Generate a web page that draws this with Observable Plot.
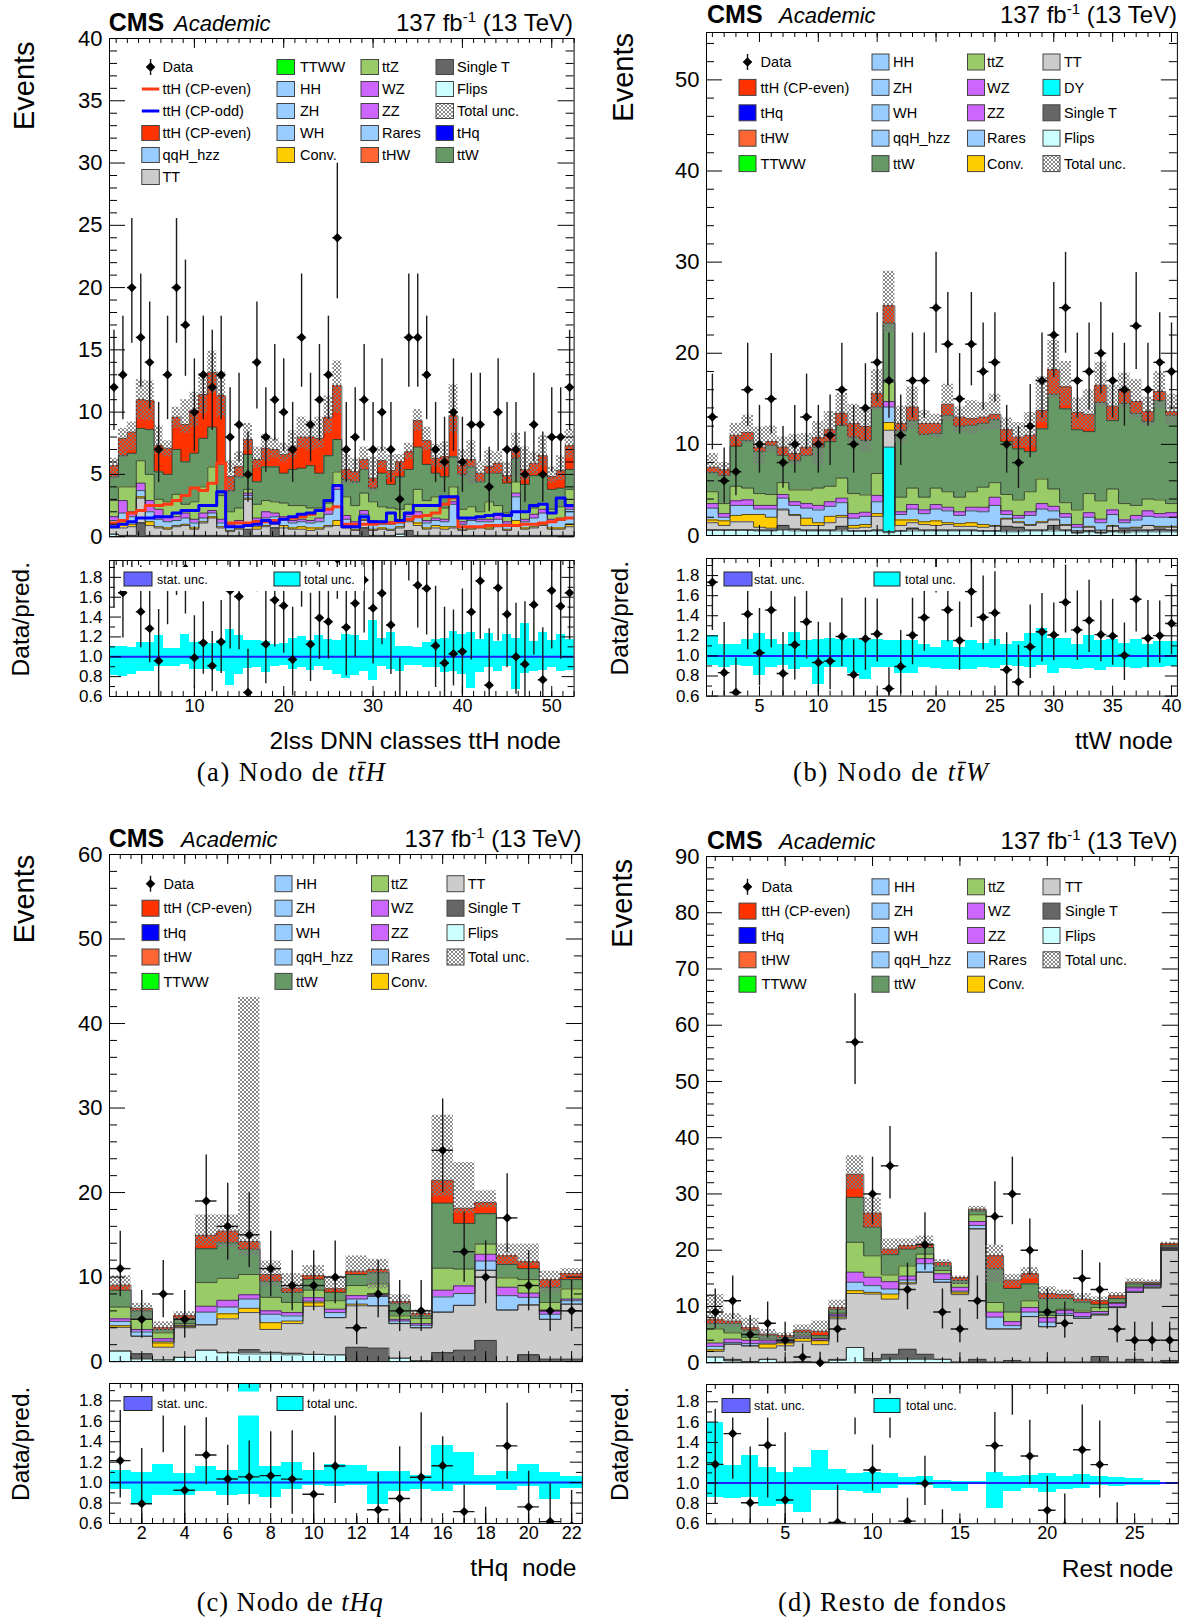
<!DOCTYPE html>
<html><head><meta charset="utf-8">
<script src="https://cdn.jsdelivr.net/npm/d3@7"></script>
<script src="https://cdn.jsdelivr.net/npm/@observablehq/plot@0.6"></script>
<style>
body{margin:0;background:#fff;}
#page{position:relative;width:1189px;height:1623px;overflow:hidden;background:#fff;}
</style></head><body><div id="page"></div>
<script>
// ---------------- DATA ----------------
// Panel (a) ttH node, 52 bins
const A_data  = [12,13,20,16,14,7,13,20,17,10,13,12,13,8,9,5,14,8,11,10,7,16,9,11,13,24,7,8,11,7,10,7,3,16,16,13,7,6,10,6,9,9,4,10,7,7,5,9,5,8,8,12];
const A_flips = [0.2,0.1,0.1,0.1,0.1,0.1,0.1,0.1,0.1,0.1,0.1,0.1,0.1,0.1,0.1,0.1,0.1,0.1,0.1,0.1,0.1,0.1,0.1,0.1,0.1,0.1,0.1,0.1,0.1,0.1,0.1,0.1,0.2,0.1,0.1,0.1,0.1,0.1,0.1,0.1,0.1,0.1,0.1,0.1,0.1,0.1,0.1,0.1,0.1,0.1,0.1,0.1];
const A_st    = [0,0,0,1.0,0,0,0,0,0,0,0,0,0,0,0,0.5,0,0,0.6,0,0,0,0,0,0,0,0,0,0.6,0,0,0,0,0.4,0,0,0,0,0,0,0,0,0,0,0,0,0,0,0,0,0,0];
const A_tt    = [0.5,0.6,0.7,2.0,0.8,0.6,0.5,0.7,0.8,0.5,1.0,1.4,0.6,0.3,0.5,2.4,0.5,0.7,0.3,0.6,0.5,0.5,0.4,0.5,0.7,0.8,0.6,0.4,0.6,0.4,0.5,0.4,0.5,0.7,0.8,0.5,0.6,0.5,0.6,0.4,0.5,0.6,0.5,0.7,0.4,0.8,0.5,0.6,0.8,0.5,0.5,0.7];
const A_conv  = [0.1,0.5,0.2,0.1,0.3,0.1,0.1,0.1,0.1,0.1,0.1,0.1,0.1,0.1,0.1,0.1,0.2,0.1,0.1,0.2,0.1,0.2,0.2,0.1,0.1,0.4,0.1,0.1,0.1,0.1,0.1,0.1,0.1,0.1,0.2,0.1,0.2,0.2,0.1,0.1,0.1,0.1,0.1,0.1,0.1,0.4,0.1,0.1,0.1,0.1,0.1,0.2];
const A_rares = [0.5,0.7,0.6,0.5,0.8,0.6,0.5,0.4,0.5,0.4,0.3,0.3,0.3,0.3,0.4,0.2,0.5,0.6,0.5,0.5,0.4,0.4,0.4,0.5,0.9,2.5,0.6,0.4,0.4,0.5,0.3,0.4,0.3,0.3,0.6,0.4,0.4,0.4,1.8,0.4,0.6,0.4,0.5,0.5,0.4,1.9,0.5,0.7,0.9,0.5,0.6,1.2];
const A_vv    = [0.3,1.0,0.4,0.6,0.9,0.8,0.4,0.3,0.4,0.3,0.4,0.2,0.3,0.2,0.2,0.2,0.2,0.5,0.3,0.2,0.2,0.2,0.2,0.3,0.4,0.3,0.3,0.2,0.3,0.2,0.2,0.2,0.1,0.2,0.3,0.2,0.2,0.2,0.2,0.2,0.2,0.2,0.2,0.3,0.2,0.3,0.2,0.3,0.3,0.2,0.2,0.2];
const A_ttz   = [1.3,1.1,2.0,1.8,2.1,0.8,1.2,1.8,0.7,1.4,2.1,3.5,1.9,1.0,1.0,0.3,1.1,0.9,0.9,1.1,1.2,1.1,1.0,0.8,0.5,1.1,1.5,1.3,1.4,1.5,1.2,1.1,1.0,0.8,1.8,1.6,1.7,0.9,1.2,1.0,0.9,0.6,1.4,0.8,0.7,0.9,0.6,0.5,0.4,0.8,0.9,1.4];
const A_ttw   = [1.9,2.5,2.7,2.6,3.6,2.2,2.2,3.6,3.4,3.9,3.9,3.2,2.5,1.7,2.5,2.8,1.8,2.7,2.8,2.4,2.9,3.0,3.4,2.8,3.8,2.6,1.4,1.9,1.9,1.1,2.7,1.9,2.6,2.8,3.4,2.9,1.9,2.5,2.4,2.8,3.2,2.4,2.3,2.6,2.4,1.9,2.2,2.6,2.4,1.6,1.5,1.6];
const A_tth   = [0.9,1.4,1.7,2.3,2.3,2.1,2.1,2.6,3.0,3.4,3.5,4.4,5.5,1.1,0.8,1.2,1.8,1.5,1.4,1.5,1.8,2.5,2.3,2.8,3.1,4.3,0.8,0.8,0.8,0.8,1.0,1.1,1.2,1.4,2.1,1.9,1.2,1.6,3.3,0.7,0.6,0.7,0.5,0.8,0.6,0.7,1.2,1.0,1.5,1.0,1.4,1.9];
const A_up    = [0.6,0.8,0.8,1.6,1.6,1.6,0.6,0.8,2.0,1.5,1.7,1.7,1.9,1.3,1.2,1.3,1.0,1.1,0.9,0.9,1.3,1.6,1.3,1.7,1.7,2.0,1.2,1.1,1.0,1.7,1.1,1.3,0.6,0.7,0.9,1.1,1.1,1.2,2.5,1.3,1.5,0.9,1.3,0.9,1.1,1.3,1.8,0.9,1.6,0.8,1.2,1.3];
const A_dn    = [1.1,1.6,1.5,1.6,1.6,0.7,0.7,0.9,0.7,1.3,1.5,1.7,1.7,1.4,1.0,0.9,0.7,1.1,0.7,0.6,0.9,0.9,1.1,0.8,1.3,2.2,1.2,1.0,0.9,1.1,0.6,0.7,0.9,0.6,0.8,0.8,0.7,1.0,1.4,1.0,2.0,0.8,0.6,0.9,0.5,2.3,0.9,0.9,0.9,0.5,0.8,1.0];
const A_even  = [1.1,1.3,1.9,2.1,2.5,2.5,2.6,2.9,3.3,3.9,3.7,4.3,5.9,1.1,1.1,1.1,1.2,1.2,1.3,1.4,1.5,1.6,1.8,2.1,2.2,2.4,1.0,1.0,1.0,1.0,1.1,1.1,1.2,1.4,1.6,1.7,1.9,2.6,3.1,0.8,0.8,0.8,0.9,0.9,0.9,0.9,1.0,1.0,1.1,1.2,1.4,1.5];
const A_odd   = [0.8,1.0,1.2,1.5,1.5,1.6,1.6,1.9,2.1,2.1,2.5,2.5,3.6,0.8,0.8,0.9,1.0,1.3,1.1,1.4,1.6,1.8,1.9,2.1,2.9,4.1,0.8,0.8,1.6,1.2,1.2,1.9,1.3,1.9,2.5,2.5,2.5,3.2,3.2,1.5,1.5,1.6,1.7,1.8,1.7,2.0,2.0,2.5,2.6,1.9,3.1,2.5];

// Panel (b) ttW node, 40 bins
const B_data  = [13,6,7,16,10,15,8,10,13,10,11,16,10,14,19,17,11,17,17,25,21,15,21,18,19,10,8,12,17,22,25,17,18,20,17,16,23,16,19,18];
const B_flips = [0.6,0.6,0.6,0.6,0.5,0.5,0.6,0.5,0.5,0.5,0.5,0.5,0.5,0.5,0.5,0.3,0.5,0.5,0.5,0.5,0.5,0.5,0.5,0.5,0.5,0.4,0.4,0.5,0.5,0.5,0.5,0.3,0.4,0.3,0.4,0.3,0.4,0.4,0.4,0.4];
const B_st    = [0,0,0,0,0.1,0.1,0.5,0.2,0.1,0.1,0.1,0.5,0,0,0.1,0.1,0,0.3,0.1,0.1,0.1,0.1,0.1,0,0,0.6,0.5,0.1,0.1,0.6,0.1,0,0.1,0,0.1,0.3,0.2,0.2,0.3,0.2];
const B_dy    = [0,0,0,0,0,0,0,0,0,0,0,0,0,0,0,9.3,0,0,0,0,0,0,0,0,0,0,0,0,0,0,0,0,0,0,0,0,0,0,0,0];
const B_tt    = [0.8,0.5,0.9,0.9,0.3,0.2,1.7,1.5,0.5,0.5,0.8,1.0,0.3,0.4,1.5,1.85,0.6,0.6,0.6,0.5,0.6,0.4,0.4,0.4,0.5,0.8,0.5,0.5,0.8,0.6,0.5,0.2,0.4,0.2,0.5,0.2,0.2,0.5,0.2,0.3];
const B_conv  = [0.3,0.5,0.7,0.8,1.4,1.2,0.1,0.1,0.8,0.3,0.7,0.2,0.3,0.3,0.3,0.85,0.6,0.3,0.3,0.5,0.2,0.3,0.4,0.3,0.1,0.1,0.1,0.1,0.1,0.1,0.1,0,0.1,0.1,0.1,0,0.1,0,0.1,0.1];
const B_rares = [1.3,0.4,1.1,1.0,0.6,0.9,1.2,1.0,1.1,1.4,1.1,1.4,0.8,0.9,1.3,1.7,0.6,1.2,0.9,1.3,1.3,0.9,1.3,1.4,2.2,0.4,0.4,1.0,1.4,0.9,0.8,0.4,1.0,0.8,1.2,0.6,0.8,1.0,1.0,1.0];
const B_vv    = [0.5,0.4,0.5,0.6,0.4,0.4,0.4,0.4,0.5,0.5,0.5,0.5,0.5,0.45,0.7,0.6,0.3,0.5,0.4,0.5,0.4,0.4,0.4,0.5,0.9,0.4,0.3,0.4,0.6,0.5,0.4,0.3,0.5,0.4,0.5,0.3,0.5,0.6,0.4,0.5];
const B_ttz   = [1.3,1.1,1.6,1.3,1.3,1.2,1.3,1.3,1.5,1.9,1.7,2.2,2.2,1.9,2.4,2.1,1.6,1.8,1.4,1.8,1.7,1.6,1.7,2.2,1.6,1.8,1.7,2.2,2.7,1.9,1.2,1.6,2.1,2.0,2.3,1.8,1.1,1.3,1.5,1.0];
const B_ttw   = [2.1,3.1,4.4,5.2,4.6,5.4,3.0,3.2,3.8,4.5,4.9,5.8,6.2,6.0,7.3,6.5,7.3,7.4,6.9,6.0,8.4,7.8,7.3,7.0,6.9,5.8,5.6,4.4,5.5,10.4,10.3,8.8,6.8,10.8,7.5,11.0,10.1,8.5,10.9,9.7];
const B_tth   = [0.6,0.6,1.2,0.9,0.5,0.4,0.9,0.8,0.9,1.0,1.3,1.3,1.5,1.5,1.5,1.9,0.8,1.5,1.2,1.1,1.2,1.0,0.7,0.7,0.6,1.3,1.3,1.8,2.0,2.7,2.4,1.9,1.9,1.9,1.6,1.4,1.3,1.1,1.0,0.4];
const B_up    = [1.5,0.8,1.3,1.9,2.2,1.7,1.1,2.1,1.5,1.8,2.0,2.2,2.1,1.8,2.6,3.8,1.9,2.2,1.4,1.0,2.2,1.1,2.0,1.6,2.2,1.3,1.6,2.5,3.7,3.2,2.8,1.6,2.7,2.5,2.3,1.9,2.4,1.6,2.2,1.9];
const B_dn    = [0.7,0.8,1.1,1.2,1.9,1.2,0.95,1.2,1.1,3.0,1.3,1.5,2.2,2.8,1.8,2.9,2.2,2.5,1.4,1.6,1.9,1.7,1.7,1.5,1.7,1.1,1.1,1.3,1.3,3.2,2.1,1.8,1.7,2.4,1.6,1.9,1.9,1.6,1.9,1.5];

// Panel (c) tHq node, 22 bins
const C_data  = [11,5,8,5,19,16,15,11,9,9,10,4,8,6,6,25,13,10,17,9,6,6];
const C_flips = [1.25,0.3,0.2,0.5,1.35,1.05,0.9,0.9,0.8,0.85,0.8,0,0,0.4,0.1,0,0,0,0,0,0,0];
const C_st    = [0,0.6,0,0,0,0,0.5,0.2,0.2,0,0,1.7,1.6,0,0,1.05,1.35,2.5,0,0.8,0.3,0.3];
const C_tt    = [2.8,2.1,1.5,3.5,3.0,4.0,4.4,2.7,3.5,5.7,4.4,4.9,5.0,4.1,3.9,4.8,5.3,8.3,6.1,5.9,4.7,6.5];
const C_conv  = [0.2,0,0.5,0.1,0,0.6,0.5,0.8,0.3,0.4,0,0.2,0,0,0,0,0,0,0,0,0,0];
const C_rares = [0.5,0.5,0.2,0.1,1.5,0.8,1.1,1.0,0.6,0.2,0.6,0.6,1.1,0.3,0.3,1.8,1.4,1.1,1.7,0.9,0.6,0.4];
const C_vv    = [0.3,0.3,0.3,0.1,0.7,0.8,0.5,0.4,0.4,0.4,0.4,0.4,0.1,0.2,0.2,0.8,0.9,0.8,1.0,0.5,0.5,0.2];
const C_ttz   = [1.4,1.2,0.7,0.2,2.8,2.6,2.4,1.6,1.2,0.9,1.0,1.2,1.4,0.4,0.6,2.6,2.0,1.2,1.1,1.6,0.9,1.2];
const C_ttw   = [2.0,1.0,0.4,0.6,4.0,4.2,3.0,1.9,1.2,1.3,1.0,1.3,1.3,1.5,0.3,7.7,5.4,3.6,1.6,1.3,1.8,1.1];
const C_tth   = [0.6,0.3,0.2,0.3,1.6,1.4,0.9,0.8,0.5,0.4,0.4,0.4,0.4,0.2,0.3,2.7,1.8,1.3,1.0,0.8,0.9,0.7];
const C_up    = [1.1,0.6,0.7,0.5,2.4,1.9,28.9,1.6,1.7,1.2,1.5,1.8,1.2,0.8,0.4,7.7,5.4,1.4,1.4,2.1,1.0,0.6];
const C_dn    = [0.6,1.3,0.5,0.7,1.3,2.0,1.7,1.5,0.6,0.3,0.3,0.3,2.3,0.6,0.4,1.9,0.6,0.6,1.0,0.5,1.6,0.6];

// Panel (d) rest node, 27 bins
const D_data  = [9,11,5,7,4,1,0,6,57,30,35,13,21,9,6,11,26,30,20,9,7,15,13,6,4,4,4];
const D_flips = [1.0,0.3,0.2,0.6,0.1,0.1,0.1,0.4,2.7,0.3,0.6,0.6,0.6,0.6,0.1,0.1,0.1,0.1,0.1,0.1,0.1,0.1,0.1,0.1,0.1,0.1,0.1];
const D_st    = [0,0.3,0,0,0,0.1,0,0.2,0,0.4,0.9,1.8,0.9,0,0,0.5,0,0.3,0,0,0,0,1.0,0,0.5,0,0.3];
const D_tt    = [1.0,2.7,2.8,2.0,2.9,3.6,3.1,7.2,9.6,11.5,9.8,11.6,14.6,13.7,12.0,23.2,5.9,5.6,8.1,6.3,8.3,7.8,7.4,9.7,11.9,13.2,19.8];
const D_conv  = [0.3,0,0,0.7,0.5,0.5,0.7,0.3,0.5,0.3,0.9,0.2,0,0,0.3,0,0,0,0,0,0,0,0,0,0,0,0];
const D_rares = [0.6,0.3,0.4,0.2,0.1,0.1,0.1,0.2,1.5,1.2,0.9,0.5,1.5,0.5,0.3,0.6,2.1,0.6,0.8,0.8,0.3,0.3,0.2,0.2,0.2,0.2,0.1];
const D_vv    = [0.6,0.6,0.6,0.4,0.2,0.2,0.3,0.2,1.8,1.5,1.3,0.7,0.9,1.0,0.7,0.7,0.9,0.7,0.8,0.8,0.6,0.7,0.4,0.5,0.6,0.3,0.2];
const D_ttz   = [2.5,1.1,0.5,0.3,0.2,0.3,0.1,0.3,5.3,3.8,1.2,1.8,0.8,0.6,0.7,1.2,1.7,1.7,1.2,0.4,0.2,0.3,0.7,0.2,0.2,0.1,0.1];
const D_ttw   = [1.0,1.7,1.3,0.6,0.5,0.5,0.4,0.7,8.0,5.1,3.6,3.0,1.2,0.8,0.5,0.7,6.0,4.2,3.0,3.0,1.9,1.6,0.6,0.7,0.5,0.2,0.3];
const D_tth   = [0.6,0.4,0.4,0.3,0.3,0.4,0.8,0.3,4.1,2.5,1.0,0.6,0.6,0.6,0.5,0.3,2.3,1.5,1.8,0.9,0.7,0.5,0.6,0.5,0.3,0.2,0.3];
const D_up    = [4.5,1.3,1.7,0.8,0.5,0.9,1.8,1.3,3.3,2.7,1.8,1.2,1.4,0.5,0.3,0.5,1.9,1.0,1.1,1.2,0.8,1.0,0.7,0.6,0.6,0.4,0.2];
const D_dn    = [1.1,1.1,0.9,1.2,1.0,1.7,0.4,0.7,2.7,2.7,1.0,0.6,0.6,0.9,1.2,0.5,4.8,1.2,0.9,1.1,0.8,0.6,0.3,0.4,0.4,0.3,0.2];

// Axis tick labels
const A_xlabels = [10,20,30,40,50];
const B_xlabels = [5,10,15,20,25,30,35,40];
const C_xlabels = [2,4,6,8,10,12,14,16,18,20,22];
const D_xlabels = [5,10,15,20,25];
const RATIO_LABELS = [0.6,0.8,1.0,1.2,1.4,1.6,1.8];

// ---------------- STYLE ----------------
const FONT = '"Liberation Sans", Arial, Helvetica, sans-serif';
const SERIF = '"Liberation Serif", "Times New Roman", serif';
const COLORS = {flips:"#ccffff", st:"#666666", dy:"#00ffff", tt:"#cccccc", conv:"#ffcc00",
  rares:"#99ccff", vv:"#cc66ff", ttz:"#99cc66", ttw:"#669966", tth:"#ff3300",
  ttww:"#00ff00", thw:"#ff6633", thq:"#0000ff"};

const page = document.getElementById("page");

function garwood(n){ return [Math.max(0, n - Math.sqrt(n)), n + Math.sqrt(n + 0.75) + 1]; }
function steps(a, b, s){ const o=[]; for(let k=0; a + k*s <= b + 1e-9; k++) o.push(+(a + k*s).toFixed(4)); return o; }

function tickMarks(W, H, xMaj, xMin, yMaj, yMin, L){
  const m = [];
  const tk = {stroke:"black", strokeWidth:1};
  m.push(Plot.tickY(yMaj, {y:d=>d, insetRight: W - L.yM, ...tk}));
  m.push(Plot.tickY(yMaj, {y:d=>d, insetLeft: W - L.yM, ...tk}));
  m.push(Plot.tickY(yMin, {y:d=>d, insetRight: W - L.ym, ...tk}));
  m.push(Plot.tickY(yMin, {y:d=>d, insetLeft: W - L.ym, ...tk}));
  m.push(Plot.tickX(xMaj, {x:d=>d, insetTop: H - L.xM, ...tk}));
  m.push(Plot.tickX(xMaj, {x:d=>d, insetBottom: H - L.xM, ...tk}));
  m.push(Plot.tickX(xMin, {x:d=>d, insetTop: H - L.xm, ...tk}));
  m.push(Plot.tickX(xMin, {x:d=>d, insetBottom: H - L.xm, ...tk}));
  return m;
}

function place(svg, left, top){
  svg.style.position = "absolute";
  svg.style.left = left + "px";
  svg.style.top = top + "px";
  svg.style.background = "transparent";
  svg.style.maxWidth = "none";
  page.appendChild(svg);
}

function drawPanel(P){
  const n = P.data.length;
  const idx = d3.range(n);
  const cum = new Array(n).fill(0);
  const stackMarks = [], outlineMarks = [];
  for (const [key, arr] of P.comps){
    const recs = idx.map(i => ({x1:i+0.5, x2:i+1.5, y1:cum[i], y2:cum[i]+arr[i]})).filter(r => r.y2 > r.y1);
    idx.forEach(i => { cum[i] += arr[i]; });
    stackMarks.push(Plot.rect(recs, {x1:"x1", x2:"x2", y1:"y1", y2:"y2", fill:COLORS[key], inset:0, shapeRendering:"crispEdges", clip:true}));
    const pts = idx.flatMap(i => [{x:i+0.5, y:cum[i]}, {x:i+1.5, y:cum[i]}]);
    outlineMarks.push(Plot.line(pts, {x:"x", y:"y", stroke:"#2b2b2b", strokeWidth:0.8, clip:true}));
  }
  const total = cum.slice();
  const unc = idx.map(i => ({x1:i+0.5, x2:i+1.5, y1:total[i]-P.dn[i], y2:total[i]+P.up[i],
     r1: 1 - P.dn[i]/total[i], r2: 1 + P.up[i]/total[i]}));
  const pts = idx.map(i => { const v = P.data[i]; const [lo,hi] = garwood(v);
     return {x:i+1, y:v, lo, hi, r:v/total[i], rlo:lo/total[i], rhi:hi/total[i]}; });
  const hatchId = "hatch" + P.id;

  const lineMarks = (P.lines || []).map(([arr, col]) =>
    Plot.line(idx.flatMap(i => [{x:i+0.5, y:arr[i]}, {x:i+1.5, y:arr[i]}]), {x:"x", y:"y", stroke:col, strokeWidth:3, clip:true}));

  // ----- main -----
  const M = P.main, mL = 70, mR = 12, mT = 12, mB = 12;
  const W = M.x1 - M.x0, H = M.y1 - M.y0;
  const xDom = [0.5, n + 0.5];
  const xMin = steps(P.xMinor, n + 0.5, P.xMinor);
  const xMaj = steps(P.xMajor, n + 0.5, P.xMajor);
  const yMaj = steps(0, M.ymax, M.yMajor);
  const yMin = steps(M.yMinor, M.ymax, M.yMinor).filter(v => Math.abs(v/M.yMajor - Math.round(v/M.yMajor)) > 1e-6);
  const main = Plot.plot({
    width: W + mL + mR, height: H + mT + mB,
    marginLeft: mL, marginRight: mR, marginTop: mT, marginBottom: mB,
    x: {domain: xDom, axis: null}, y: {domain: [0, M.ymax]},
    style: {background:"transparent", fontFamily: FONT, overflow:"visible"},
    marks: [
      ...stackMarks, ...outlineMarks,
      Plot.rect(unc, {x1:"x1", x2:"x2", y1:"y1", y2:"y2", fill:`url(#${hatchId})`, inset:0, clip:true}),
      ...lineMarks,
      Plot.ruleX(pts, {x:"x", y1:"lo", y2:"hi", stroke:"#1a1a1a", strokeWidth:1.4, clip:true}),
      Plot.ruleY(pts, {y:"y", x1:d=>d.x-0.5, x2:d=>d.x+0.5, stroke:"#1a1a1a", strokeWidth:1.4, clip:true}),
      Plot.dot(pts, {x:"x", y:"y", symbol:"diamond2", r:4.2, fill:"black", stroke:"none"}),
      Plot.frame({stroke:"black", strokeWidth:1}),
      ...tickMarks(W, H, xMaj, xMin, yMaj, yMin, {yM:16, ym:8, xM:10, xm:5}),
      Plot.axisY(yMaj, {tickSize:0, tickPadding:7, fontSize:22, label:null, tickFormat:d3.format("d")})
    ]
  });
  const defs = d3.select(main).insert("defs", ":first-child");
  const pat = defs.append("pattern").attr("id", hatchId).attr("width", 4).attr("height", 4).attr("patternUnits", "userSpaceOnUse");
  pat.append("path").attr("d", "M0,0L4,4M4,0L0,4").attr("stroke", "#7a7a7a").attr("stroke-width", 0.9).attr("fill", "none");
  place(main, M.x0 - mL, M.y0 - mT);

  // ----- ratio -----
  const R = P.ratio, rB = 34;
  const RH = R.y1 - R.y0;
  const rMin = [0.7,0.9,1.1,1.3,1.5,1.7,1.9];
  const ratio = Plot.plot({
    width: W + mL + mR, height: RH + mT + rB,
    marginLeft: mL, marginRight: mR, marginTop: mT, marginBottom: rB,
    x: {domain: xDom}, y: {domain: [0.6, 1.97]},
    style: {background:"transparent", fontFamily: FONT, overflow:"visible"},
    marks: [
      Plot.rect(unc, {x1:"x1", x2:"x2", y1:"r1", y2:"r2", fill:"#00ffff", inset:0, shapeRendering:"crispEdges", clip:true}),
      Plot.ruleY([1], {stroke:"#1f1fff", strokeWidth:2}),
      Plot.ruleX(pts, {x:"x", y1:"rlo", y2:"rhi", stroke:"#1a1a1a", strokeWidth:1.4, clip:true}),
      Plot.ruleY(pts, {y:"r", x1:d=>d.x-0.5, x2:d=>d.x+0.5, stroke:"#1a1a1a", strokeWidth:1.4, clip:true}),
      Plot.dot(pts, {x:"x", y:"r", symbol:"diamond2", r:4.2, fill:"black", stroke:"none", clip:true}),
      Plot.frame({stroke:"black", strokeWidth:1}),
      ...tickMarks(W, RH, xMaj, xMin, RATIO_LABELS, rMin, {yM:12, ym:6, xM:10, xm:5}),
      Plot.axisY(RATIO_LABELS, {tickSize:0, tickPadding:7, fontSize:17, label:null, tickFormat:d3.format(".1f")}),
      Plot.axisX(P.xlabels, {tickSize:0, tickPadding:3, fontSize:18, label:null, tickFormat:d3.format("d")})
    ]
  });
  place(ratio, M.x0 - mL, R.y0 - mT);
}

const panels = [
  {id:"A", data:A_data, up:A_up, dn:A_dn, xlabels:A_xlabels, xMajor:10, xMinor:1.25,
   comps:[["flips",A_flips],["st",A_st],["tt",A_tt],["conv",A_conv],["rares",A_rares],["vv",A_vv],["ttz",A_ttz],["ttw",A_ttw],["tth",A_tth]],
   lines:[[A_even, "#ff3a14"],[A_odd, "#0000ff"]],
   main:{x0:108.7, x1:573.3, y0:38.3, y1:536.5, ymax:40, yMajor:5, yMinor:1},
   ratio:{y0:559.5, y1:695.5}},
  {id:"B", data:B_data, up:B_up, dn:B_dn, xlabels:B_xlabels, xMajor:5, xMinor:1,
   comps:[["flips",B_flips],["st",B_st],["dy",B_dy],["tt",B_tt],["conv",B_conv],["rares",B_rares],["vv",B_vv],["ttz",B_ttz],["ttw",B_ttw],["tth",B_tth]],
   main:{x0:705.7, x1:1176.6, y0:31.5, y1:534.5, ymax:55.2, yMajor:10, yMinor:2},
   ratio:{y0:557.8, y1:695.4}},
  {id:"C", data:C_data, up:C_up, dn:C_dn, xlabels:C_xlabels, xMajor:2, xMinor:0.5,
   comps:[["flips",C_flips],["st",C_st],["tt",C_tt],["conv",C_conv],["rares",C_rares],["vv",C_vv],["ttz",C_ttz],["ttw",C_ttw],["tth",C_tth]],
   main:{x0:108.7, x1:581.6, y0:853.7, y1:1360.8, ymax:60, yMajor:10, yMinor:2},
   ratio:{y0:1382.5, y1:1522.5}},
  {id:"D", data:D_data, up:D_up, dn:D_dn, xlabels:D_xlabels, xMajor:5, xMinor:1,
   comps:[["flips",D_flips],["st",D_st],["tt",D_tt],["conv",D_conv],["rares",D_rares],["vv",D_vv],["ttz",D_ttz],["ttw",D_ttw],["tth",D_tth]],
   main:{x0:705.7, x1:1177.6, y0:855.8, y1:1362, ymax:90, yMajor:10, yMinor:2},
   ratio:{y0:1383.8, y1:1523}}
];
panels.forEach(drawPanel);

// ---------------- TEXT OVERLAY (titles, legends, captions) ----------------
const ov = d3.select(page).append("svg")
  .attr("width", 1189).attr("height", 1623)
  .style("position", "absolute").style("left", "0px").style("top", "0px")
  .style("pointer-events", "none").style("font-family", FONT);
const od = ov.append("defs").append("pattern").attr("id", "hatchL").attr("width", 4).attr("height", 4).attr("patternUnits", "userSpaceOnUse");
od.append("path").attr("d", "M0,0L4,4M4,0L0,4").attr("stroke", "#7a7a7a").attr("stroke-width", 0.9);

function header(x0, x1, y, accX){
  ov.append("text").attr("x", x0).attr("y", y).attr("font-size", 25).attr("font-weight", "bold").text("CMS");
  ov.append("text").attr("x", accX).attr("y", y).attr("font-size", 22).attr("font-style", "italic").text("Academic");
  const t = ov.append("text").attr("x", x1).attr("y", y).attr("font-size", 24).attr("text-anchor", "end");
  t.append("tspan").text("137 fb");
  t.append("tspan").attr("font-size", 15).attr("dy", -9).text("-1");
  t.append("tspan").attr("dy", 9).text(" (13 TeV)");
}
header(108.7, 573, 31, 174);
header(707, 1177, 23, 779);
header(108.7, 581.6, 846.5, 181);
header(707, 1177.6, 848.5, 779);

function vtitle(x, y, txt, size){
  ov.append("text").attr("transform", `translate(${x},${y}) rotate(-90)`).attr("text-anchor", "end")
    .attr("font-size", size).text(txt);
}
vtitle(34, 41.4, "Events", 29);
vtitle(633, 33, "Events", 29);
vtitle(34, 854.7, "Events", 29);
vtitle(632, 859, "Events", 29);
vtitle(29, 562, "Data/pred.", 24.5);
vtitle(628, 561, "Data/pred.", 24.5);
vtitle(29, 1386.6, "Data/pred.", 24.5);
vtitle(628, 1386.6, "Data/pred.", 24.5);

function xtitle(x, y, txt){
  ov.append("text").attr("x", x).attr("y", y).attr("text-anchor", "end").attr("font-size", 24.5)
    .attr("xml:space", "preserve").style("white-space", "pre").text(txt);
}
xtitle(561, 749, "2lss DNN classes ttH node");
xtitle(1173, 749, "ttW node");
xtitle(576.4, 1576, "tHq  node");
xtitle(1173.5, 1577, "Rest node");

// legends
const LEG_A = [
  [["data",null,"Data"],["line","#ff3a14","ttH (CP-even)"],["line","#0000ff","ttH (CP-odd)"],["box",COLORS.tth,"ttH (CP-even)"],["box",COLORS.rares,"qqH_hzz"],["box",COLORS.tt,"TT"]],
  [["box",COLORS.ttww,"TTWW"],["box",COLORS.rares,"HH"],["box",COLORS.rares,"ZH"],["box",COLORS.rares,"WH"],["box",COLORS.conv,"Conv."]],
  [["box",COLORS.ttz,"ttZ"],["box",COLORS.vv,"WZ"],["box",COLORS.vv,"ZZ"],["box",COLORS.rares,"Rares"],["box",COLORS.thw,"tHW"]],
  [["box",COLORS.st,"Single T"],["box",COLORS.flips,"Flips"],["hatch",null,"Total unc."],["box",COLORS.thq,"tHq"],["box",COLORS.ttw,"ttW"]]
];
const LEG_B = [
  [["data",null,"Data"],["box",COLORS.tth,"ttH (CP-even)"],["box",COLORS.thq,"tHq"],["box",COLORS.thw,"tHW"],["box",COLORS.ttww,"TTWW"]],
  [["box",COLORS.rares,"HH"],["box",COLORS.rares,"ZH"],["box",COLORS.rares,"WH"],["box",COLORS.rares,"qqH_hzz"],["box",COLORS.ttw,"ttW"]],
  [["box",COLORS.ttz,"ttZ"],["box",COLORS.vv,"WZ"],["box",COLORS.vv,"ZZ"],["box",COLORS.rares,"Rares"],["box",COLORS.conv,"Conv."]],
  [["box",COLORS.tt,"TT"],["box",COLORS.dy,"DY"],["box",COLORS.st,"Single T"],["box",COLORS.flips,"Flips"],["hatch",null,"Total unc."]]
];
const LEG_CD = [
  [["data",null,"Data"],["box",COLORS.tth,"ttH (CP-even)"],["box",COLORS.thq,"tHq"],["box",COLORS.thw,"tHW"],["box",COLORS.ttww,"TTWW"]],
  [["box",COLORS.rares,"HH"],["box",COLORS.rares,"ZH"],["box",COLORS.rares,"WH"],["box",COLORS.rares,"qqH_hzz"],["box",COLORS.ttw,"ttW"]],
  [["box",COLORS.ttz,"ttZ"],["box",COLORS.vv,"WZ"],["box",COLORS.vv,"ZZ"],["box",COLORS.rares,"Rares"],["box",COLORS.conv,"Conv."]],
  [["box",COLORS.tt,"TT"],["box",COLORS.st,"Single T"],["box",COLORS.flips,"Flips"],["hatch",null,"Total unc."]]
];

function legend(spec, rows, cols, bw, bh){
  spec.forEach((col, ci) => {
    col.forEach((e, ri) => {
      const [type, color, label] = e;
      const y = rows[ri], bx = cols[ci].bx, tx = cols[ci].tx;
      if (type === "data"){
        const cx = bx + bw/2;
        ov.append("line").attr("x1", cx).attr("x2", cx).attr("y1", y-8).attr("y2", y+8).attr("stroke", "#111").attr("stroke-width", 1.4);
        ov.append("path").attr("d", `M${cx},${y-4.8}L${cx+4.8},${y}L${cx},${y+4.8}L${cx-4.8},${y}Z`).attr("fill", "black");
      } else if (type === "line"){
        ov.append("line").attr("x1", bx).attr("x2", bx+bw).attr("y1", y).attr("y2", y).attr("stroke", color).attr("stroke-width", 3);
      } else {
        ov.append("rect").attr("x", bx).attr("y", y - bh/2).attr("width", bw).attr("height", bh)
          .attr("fill", type === "hatch" ? "url(#hatchL)" : color).attr("stroke", "#444").attr("stroke-width", 1);
      }
      ov.append("text").attr("x", tx).attr("y", y + 5.2).attr("font-size", 14.5).text(label);
    });
  });
}
legend(LEG_A, [67,89,111,133,155,177], [{bx:141.8,tx:162.5},{bx:277,tx:300},{bx:361,tx:382},{bx:436,tx:457}], 17.5, 15);
legend(LEG_B, [62,87.4,112.8,138.2,163.6], [{bx:739,tx:760.6},{bx:872,tx:893},{bx:967.5,tx:987},{bx:1043,tx:1064}], 17, 16);
legend(LEG_CD, [883.7,908.2,932.6,957,981.4], [{bx:142,tx:163.5},{bx:275,tx:296},{bx:371.5,tx:391},{bx:447,tx:467.7}], 17, 16);
legend(LEG_CD, [886.8,911.1,935.5,959.8,984.2], [{bx:739,tx:761.6},{bx:872,tx:894},{bx:967.5,tx:988},{bx:1043,tx:1065}], 17, 16);

// ratio legends (opaque white boxes)
function rlegend(x0, x1, yc, sx, tx1, tx, tx2){
  ov.append("rect").attr("x", x0).attr("y", yc - 12).attr("width", x1 - x0).attr("height", 24).attr("fill", "white");
  ov.append("rect").attr("x", sx).attr("y", yc - 7).attr("width", 28).attr("height", 14).attr("fill", "#6666ff").attr("stroke", "#222").attr("stroke-width", 1);
  ov.append("text").attr("x", tx1).attr("y", yc + 4.5).attr("font-size", 12.5).text("stat. unc.");
  ov.append("rect").attr("x", tx).attr("y", yc - 7).attr("width", 26).attr("height", 14).attr("fill", "#00ffff").attr("stroke", "#222").attr("stroke-width", 1);
  ov.append("text").attr("x", tx2).attr("y", yc + 4.5).attr("font-size", 12.5).text("total unc.");
}
rlegend(121, 364, 579, 124, 157, 274, 304);
rlegend(720, 963, 579, 724, 754, 874, 905);
rlegend(122, 367, 1403.5, 124, 157, 277, 307);
rlegend(720, 963, 1405.5, 722, 754, 874, 906);

// captions
function caption(cx, y, len, parts){
  const t = ov.append("text").attr("x", cx).attr("y", y).attr("text-anchor", "middle")
    .attr("font-family", SERIF).attr("font-size", 26.5).attr("textLength", len).attr("lengthAdjust", "spacing");
  parts.forEach(([s, it]) => { const sp = t.append("tspan").text(s); if (it) sp.attr("font-style", "italic"); });
}
caption(290.8, 781, 188, [["(a) Nodo de ", false], ["tt\u0304H", true]]);
caption(890.5, 781, 195, [["(b) Nodo de ", false], ["tt\u0304W", true]]);
caption(289.8, 1611, 186, [["(c) Nodo de ", false], ["tHq", true]]);
caption(892, 1611, 228, [["(d) Resto de fondos", false]]);
</script></body></html>
